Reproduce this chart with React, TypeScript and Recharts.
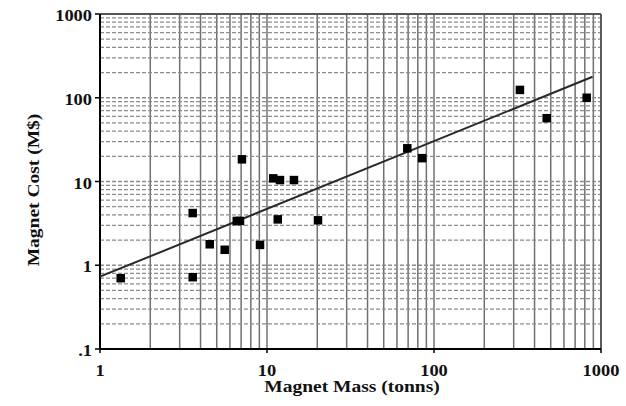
import React from 'react';
import { ScatterChart, Scatter, XAxis, YAxis, CartesianGrid, ReferenceLine, Label } from 'recharts';

// Grid ticks (log decades with minor steps)
const xTicks = [1, 2, 3, 4, 5, 6, 7, 8, 9, 10, 20, 30, 40, 50, 60, 70, 80, 90, 100, 200, 300, 400, 500, 600, 700, 800, 900, 1000];
const yTicks = [0.1, 0.2, 0.3, 0.4, 0.5, 0.6, 0.7, 0.8, 0.9, 1, 2, 3, 4, 5, 6, 7, 8, 9, 10, 20, 30, 40, 50, 60, 70, 80, 90, 100, 200, 300, 400, 500, 600, 700, 800, 900, 1000];

// Labelled ticks
const xLabelTicks = [1, 10, 100, 1000];
const xTickText = ['1', '10', '100', '1000'];
const yLabelTicks = [0.1, 1, 10, 100, 1000];
const yTickText = ['.1', '1', '10', '100', '1000'];

// Data: magnet mass (tonnes) vs magnet cost (M$)
const massTonnes = [1.33, 3.59, 3.59, 4.54, 5.58, 6.59, 6.89, 7.08, 9.08, 10.9, 11.6, 11.96, 14.5, 20.2, 69.2, 85, 327, 473, 821];
const costMusd = [0.70, 4.2, 0.72, 1.78, 1.53, 3.38, 3.38, 18.4, 1.75, 10.9, 3.53, 10.4, 10.4, 3.44, 24.9, 19.0, 124, 57, 100];

// Fit line endpoints
const fitMass = [1, 890];
const fitCost = [0.73, 178];

const points = massTonnes.map((m, i) => ({ m, c: costMusd[i] }));
const fitLine = fitMass.map((m, i) => ({ m, c: fitCost[i] }));

const fontStyle: React.CSSProperties = {
  fontFamily: '"Liberation Serif", "Times New Roman", serif',
  fontWeight: 'bold',
  fontSize: 16,
  fill: '#111',
};

const XTick = (props: any) => {
  const { x, y, payload } = props;
  const idx = xLabelTicks.indexOf(payload.value);
  if (idx < 0) return <g />;
  return (
    <g>
      <line x1={x} x2={x} y1={y} y2={y + 4} stroke="#000" strokeWidth={1.5} />
      <text transform={`translate(${x},${y + 27}) scale(1.15,1)`} textAnchor="middle" style={fontStyle}>
        {xTickText[idx]}
      </text>
    </g>
  );
};

const YTick = (props: any) => {
  const { x, y, payload } = props;
  const idx = yLabelTicks.indexOf(payload.value);
  if (idx < 0) return <g />;
  return (
    <g>
      <line x1={x - 5} x2={x} y1={y} y2={y} stroke="#000" strokeWidth={1.5} />
      <text transform={`translate(${x - 8},${y + 7}) scale(1.15,1)`} textAnchor="end" style={fontStyle}>
        {yTickText[idx]}
      </text>
    </g>
  );
};

const XTitle = () => (
  <text transform="translate(352,392) scale(1.22,1)" textAnchor="middle" style={fontStyle}>
    Magnet Mass (tonns)
  </text>
);

const YTitle = () => (
  <text transform="translate(39,190) rotate(-90) scale(1.22,1)" textAnchor="middle" style={fontStyle}>
    Magnet Cost (M$)
  </text>
);

const Square = (props: any) => {
  const { cx, cy } = props;
  if (cx == null || cy == null) return <g />;
  return <rect x={cx - 4.25} y={cy - 4.25} width={8.5} height={8.5} fill="#000" />;
};

const NoDot = () => <g />;

export default function App() {
  return (
    <div style={{ position: 'absolute', left: 0, top: 0, width: 626, height: 406, background: '#fff' }}>
      <ScatterChart width={626} height={406} margin={{ top: 14, right: 25, bottom: 0, left: 0 }}>
        <CartesianGrid horizontal={false} stroke="#707070" strokeWidth={1.5} />
        <CartesianGrid vertical={false} stroke="#8c8c8c" strokeWidth={1.3} strokeDasharray="4 2" />
        <XAxis
          type="number"
          dataKey="m"
          scale="log"
          domain={[1, 1000]}
          allowDataOverflow
          ticks={xTicks}
          interval={0}
          tickSize={0}
          tickMargin={0}
          tickLine={false}
          tick={<XTick />}
          height={57}
          axisLine={{ stroke: '#000', strokeWidth: 2 }}
        >
          <Label content={<XTitle />} />
        </XAxis>
        <YAxis
          type="number"
          dataKey="c"
          scale="log"
          domain={[0.1, 1000]}
          allowDataOverflow
          ticks={yTicks}
          interval={0}
          tickSize={0}
          tickMargin={0}
          tickLine={false}
          tick={<YTick />}
          width={100}
          axisLine={{ stroke: '#000', strokeWidth: 2 }}
        >
          <Label content={<YTitle />} />
        </YAxis>
        <ReferenceLine y={1000} stroke="#555" strokeWidth={1.8} />
        <ReferenceLine x={1000} stroke="#555" strokeWidth={1.8} />
        <Scatter
          data={fitLine}
          line={{ stroke: '#2a2a2a', strokeWidth: 2 }}
          shape={<NoDot />}
          isAnimationActive={false}
          legendType="none"
        />
        <Scatter data={points} shape={<Square />} isAnimationActive={false} />
      </ScatterChart>
    </div>
  );
}
